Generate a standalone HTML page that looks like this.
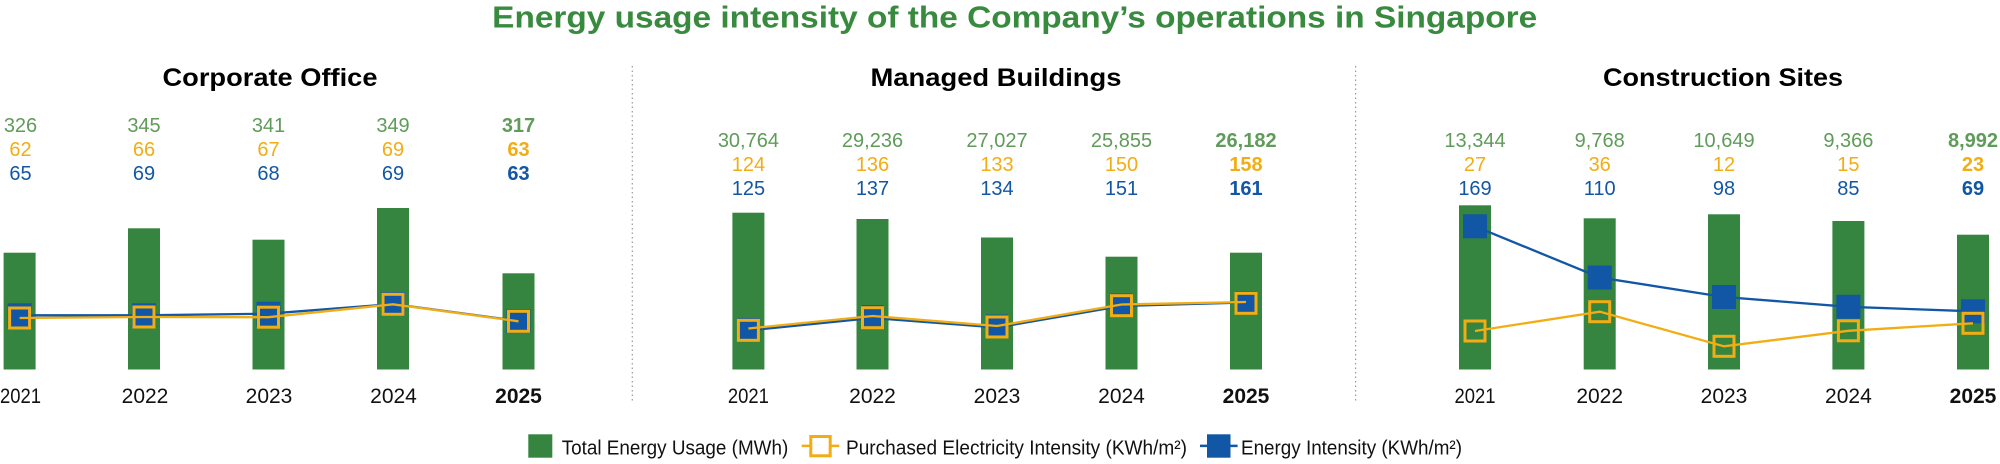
<!DOCTYPE html>
<html>
<head>
<meta charset="utf-8">
<style>
html,body{margin:0;padding:0;background:#fff;}
svg{display:block;}
text{font-family:"Liberation Sans",sans-serif;}
</style>
</head>
<body>
<svg width="2000" height="464" viewBox="0 0 2000 464" xmlns="http://www.w3.org/2000/svg">
<rect width="2000" height="464" fill="#fff"/>

<!-- Main title -->
<text x="1014.7" y="27.5" text-anchor="middle" font-size="31" font-weight="bold" fill="#378a3e" textLength="1045" lengthAdjust="spacingAndGlyphs">Energy usage intensity of the Company’s operations in Singapore</text>

<!-- Separators -->
<line x1="632.3" y1="66" x2="632.3" y2="403" stroke="#9a9a9a" stroke-width="1.2" stroke-dasharray="1.5 3"/>
<line x1="1355.6" y1="66" x2="1355.6" y2="403" stroke="#9a9a9a" stroke-width="1.2" stroke-dasharray="1.5 3"/>

<!-- Subtitles -->
<g font-size="25" font-weight="bold" fill="#000" text-anchor="middle">
<text x="270" y="86" textLength="215" lengthAdjust="spacingAndGlyphs">Corporate Office</text>
<text x="996" y="86" textLength="251" lengthAdjust="spacingAndGlyphs">Managed Buildings</text>
<text x="1723" y="86" textLength="240" lengthAdjust="spacingAndGlyphs">Construction Sites</text>
</g>

<!-- ========== Corporate Office ========== -->
<g font-size="20" text-anchor="middle">
<g fill="#5f9b59">
<text x="20.5" y="132">326</text><text x="144" y="132">345</text><text x="268.5" y="132">341</text><text x="393" y="132">349</text><text x="518.5" y="132" font-weight="bold">317</text>
</g>
<g fill="#f2ad14">
<text x="20.5" y="156">62</text><text x="144" y="156">66</text><text x="268.5" y="156">67</text><text x="393" y="156">69</text><text x="518.5" y="156" font-weight="bold">63</text>
</g>
<g fill="#1157a5">
<text x="20.5" y="180">65</text><text x="144" y="180">69</text><text x="268.5" y="180">68</text><text x="393" y="180">69</text><text x="518.5" y="180" font-weight="bold">63</text>
</g>
</g>
<g fill="#35843f">
<rect x="3.6" y="252.7" width="32" height="116.8"/>
<rect x="128" y="228.3" width="32" height="141.2"/>
<rect x="252.5" y="239.7" width="32" height="129.8"/>
<rect x="377" y="208" width="32" height="161.5"/>
<rect x="502.5" y="273.3" width="32" height="96.2"/>
</g>
<polyline points="19.6,315.3 144,315.3 268.5,313.7 393,304 518.5,321" fill="none" stroke="#1157a5" stroke-width="2.3"/>
<g fill="#1157a5">
<rect x="7.6" y="303.3" width="24" height="24"/>
<rect x="132" y="303.3" width="24" height="24"/>
<rect x="256.5" y="301.7" width="24" height="24"/>
<rect x="381" y="292" width="24" height="24"/>
<rect x="506.5" y="309" width="24" height="24"/>
</g>
<polyline points="19.6,318 144,317 268.5,317.2 393,304.3 518.5,321.3" fill="none" stroke="#f2ad14" stroke-width="2.3"/>
<g fill="none" stroke="#f2ad14" stroke-width="3">
<rect x="9.6" y="308" width="20" height="20"/>
<rect x="134" y="307" width="20" height="20"/>
<rect x="258.5" y="307.2" width="20" height="20"/>
<rect x="383" y="294.3" width="20" height="20"/>
<rect x="508.5" y="311.3" width="20" height="20"/>
</g>

<!-- ========== Managed Buildings ========== -->
<g font-size="20" text-anchor="middle">
<g fill="#5f9b59">
<text x="748.4" y="147">30,764</text><text x="872.5" y="147">29,236</text><text x="997" y="147">27,027</text><text x="1121.5" y="147">25,855</text><text x="1246" y="147" font-weight="bold">26,182</text>
</g>
<g fill="#f2ad14">
<text x="748.4" y="171">124</text><text x="872.5" y="171">136</text><text x="997" y="171">133</text><text x="1121.5" y="171">150</text><text x="1246" y="171" font-weight="bold">158</text>
</g>
<g fill="#1157a5">
<text x="748.4" y="195">125</text><text x="872.5" y="195">137</text><text x="997" y="195">134</text><text x="1121.5" y="195">151</text><text x="1246" y="195" font-weight="bold">161</text>
</g>
</g>
<g fill="#35843f">
<rect x="732.4" y="212.7" width="32" height="156.8"/>
<rect x="856.5" y="219" width="32" height="150.5"/>
<rect x="981" y="237.5" width="32" height="132"/>
<rect x="1105.5" y="256.7" width="32" height="112.8"/>
<rect x="1230" y="252.7" width="32" height="116.8"/>
</g>
<polyline points="748.4,330.5 872.5,318 997,327.5 1121.5,306 1246,302.5" fill="none" stroke="#1157a5" stroke-width="2.3"/>
<g fill="#1157a5">
<rect x="737.4" y="318" width="22" height="22"/>
<rect x="861.5" y="305" width="22" height="22"/>
<rect x="986" y="314.5" width="22" height="22"/>
<rect x="1110.5" y="293.5" width="22" height="22"/>
<rect x="1235" y="291" width="22" height="22"/>
</g>
<polyline points="748.4,328.5 872.5,316 997,326 1121.5,304.5 1246,302" fill="none" stroke="#f2ad14" stroke-width="2.3"/>
<g fill="none" stroke="#f2ad14" stroke-width="3">
<rect x="738.4" y="320.3" width="20" height="20"/>
<rect x="862.5" y="307.7" width="20" height="20"/>
<rect x="987" y="317" width="20" height="20"/>
<rect x="1111.5" y="295.7" width="20" height="20"/>
<rect x="1236" y="293.3" width="20" height="20"/>
</g>

<!-- ========== Construction Sites ========== -->
<g font-size="20" text-anchor="middle">
<g fill="#5f9b59">
<text x="1475" y="147">13,344</text><text x="1599.7" y="147">9,768</text><text x="1724" y="147">10,649</text><text x="1848.4" y="147">9,366</text><text x="1973" y="147" font-weight="bold">8,992</text>
</g>
<g fill="#f2ad14">
<text x="1475" y="171">27</text><text x="1599.7" y="171">36</text><text x="1724" y="171">12</text><text x="1848.4" y="171">15</text><text x="1973" y="171" font-weight="bold">23</text>
</g>
<g fill="#1157a5">
<text x="1475" y="195">169</text><text x="1599.7" y="195">110</text><text x="1724" y="195">98</text><text x="1848.4" y="195">85</text><text x="1973" y="195" font-weight="bold">69</text>
</g>
</g>
<g fill="#35843f">
<rect x="1459" y="205.3" width="32" height="164.2"/>
<rect x="1583.7" y="218.3" width="32" height="151.2"/>
<rect x="1708" y="214.3" width="32" height="155.2"/>
<rect x="1832.4" y="221" width="32" height="148.5"/>
<rect x="1957" y="234.7" width="32" height="134.8"/>
</g>
<polyline points="1475,226.3 1599.7,277.5 1724,297 1848.4,306.8 1973,311.3" fill="none" stroke="#1157a5" stroke-width="2.3"/>
<g fill="#1157a5">
<rect x="1463" y="214.3" width="24" height="24"/>
<rect x="1587.7" y="265.5" width="24" height="24"/>
<rect x="1712" y="285" width="24" height="24"/>
<rect x="1836.4" y="294.8" width="24" height="24"/>
<rect x="1961" y="299.3" width="24" height="24"/>
</g>
<polyline points="1475,331 1599.7,311.7 1724,346.3 1848.4,330.8 1973,323.3" fill="none" stroke="#f2ad14" stroke-width="2.3"/>
<g fill="none" stroke="#f2ad14" stroke-width="3">
<rect x="1465" y="321" width="20" height="20"/>
<rect x="1589.7" y="301.7" width="20" height="20"/>
<rect x="1714" y="336.3" width="20" height="20"/>
<rect x="1838.4" y="320.8" width="20" height="20"/>
<rect x="1963" y="313.3" width="20" height="20"/>
</g>

<!-- Year labels -->
<g font-size="21" fill="#111">
<text x="0" y="403" textLength="41" lengthAdjust="spacingAndGlyphs">2021</text>
<text x="1475" y="403" text-anchor="middle" textLength="41" lengthAdjust="spacingAndGlyphs">2021</text>
<text x="748.4" y="403" text-anchor="middle" textLength="41" lengthAdjust="spacingAndGlyphs">2021</text>
</g>
<g font-size="21" fill="#111" text-anchor="middle">
<text x="145" y="403">2022</text><text x="269" y="403">2023</text><text x="393.5" y="403">2024</text><text x="518.5" y="403" font-weight="bold">2025</text>
<text x="872.5" y="403">2022</text><text x="997" y="403">2023</text><text x="1121.5" y="403">2024</text><text x="1246" y="403" font-weight="bold">2025</text>
<text x="1599.7" y="403">2022</text><text x="1724" y="403">2023</text><text x="1848.4" y="403">2024</text><text x="1973" y="403" font-weight="bold">2025</text>
</g>

<!-- Legend -->
<rect x="528.3" y="434.3" width="24" height="23.4" fill="#35843f"/>
<text x="561.7" y="454.3" font-size="20" fill="#111" textLength="226.6" lengthAdjust="spacingAndGlyphs">Total Energy Usage (MWh)</text>
<line x1="801.7" y1="445.9" x2="839.3" y2="445.9" stroke="#f2ad14" stroke-width="2.5"/>
<rect x="810.8" y="436.5" width="19.4" height="19.3" fill="#fff" stroke="#f2ad14" stroke-width="3"/>
<text x="846" y="454.3" font-size="20" fill="#111" textLength="341" lengthAdjust="spacingAndGlyphs">Purchased Electricity Intensity (KWh/m²)</text>
<line x1="1200" y1="445.9" x2="1237.6" y2="445.9" stroke="#1157a5" stroke-width="2.5"/>
<rect x="1207" y="434.3" width="23.5" height="23.4" fill="#1157a5"/>
<text x="1241" y="454.3" font-size="20" fill="#111" textLength="221" lengthAdjust="spacingAndGlyphs">Energy Intensity (KWh/m²)</text>
</svg>
</body>
</html>
